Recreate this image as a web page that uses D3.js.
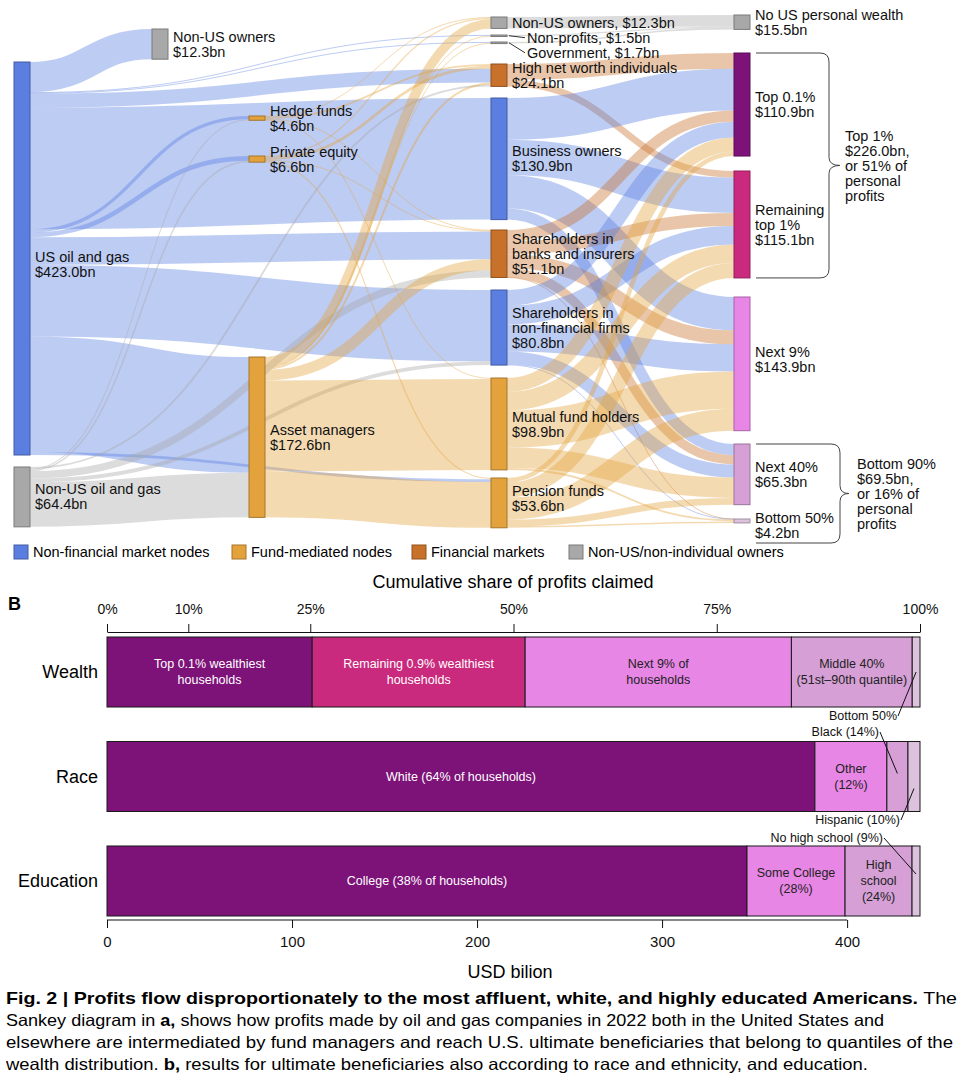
<!DOCTYPE html>
<html>
<head>
<meta charset="utf-8">
<script src="https://cdn.jsdelivr.net/npm/d3@7"></script>
<style>
  body { margin: 0; background: #fff; }
  svg { font-family: "Liberation Sans", Arial, Helvetica, sans-serif; }
</style>
</head>
<body>
<svg id="chart" width="960" height="1091"></svg>
<script>
// DATA ------------------------------------
// sankey nodes
const nodeIds = ["us", "nonusOil", "nonus1", "hedge", "pe", "am",
  "nonus2", "nonprofit", "gov", "hnwi", "business", "banks", "nonfin", "mutual", "pension",
  "noUS", "top01", "rem1", "next9", "next40", "bottom50"];
const nodeGroups = ["blue", "grey", "grey", "orange", "orange", "orange",
  "grey", "grey", "grey", "brown", "blue", "brown", "blue", "orange", "orange",
  "grey", "top01", "rem1", "next9", "next40", "bottom50"];
const nodeLabels = [
  ["US oil and gas", "$423.0bn"], ["Non-US oil and gas", "$64.4bn"], ["Non-US owners", "$12.3bn"],
  ["Hedge funds", "$4.6bn"], ["Private equity", "$6.6bn"], ["Asset managers", "$172.6bn"],
  ["Non-US owners, $12.3bn"], ["Non-profits, $1.5bn"], ["Government, $1.7bn"],
  ["High net worth individuals", "$24.1bn"], ["Business owners", "$130.9bn"],
  ["Shareholders in", "banks and insurers", "$51.1bn"], ["Shareholders in", "non-financial firms", "$80.8bn"],
  ["Mutual fund holders", "$98.9bn"], ["Pension funds", "$53.6bn"],
  ["No US personal wealth", "$15.5bn"], ["Top 0.1%", "$110.9bn"], ["Remaining", "top 1%", "$115.1bn"],
  ["Next 9%", "$143.9bn"], ["Next 40%", "$65.3bn"], ["Bottom 50%", "$4.2bn"]];

// flows in USD bn: [source, target, value]
const flowsOil = [
  ["us", "nonus1", 32.5], ["us", "nonprofit", 0.8], ["us", "gov", 0.9], ["us", "hnwi", 15.0],
  ["us", "hedge", 3.5], ["us", "pe", 5.0], ["us", "business", 130.9], ["us", "banks", 30.0],
  ["us", "nonfin", 76.8], ["us", "am", 124.7], ["us", "pension", 2.9],
  ["nonusOil", "hedge", 1.1], ["nonusOil", "pe", 1.6], ["nonusOil", "banks", 7.8],
  ["nonusOil", "nonfin", 4.0], ["nonusOil", "hnwi", 2.0], ["nonusOil", "am", 47.9]];
const flowsFunds = [
  ["hedge", "nonus2", 1.0], ["hedge", "hnwi", 2.0], ["hedge", "banks", 0.6], ["hedge", "mutual", 1.0],
  ["pe", "nonus2", 1.3], ["pe", "hnwi", 3.0], ["pe", "banks", 1.0], ["pe", "pension", 1.3],
  ["am", "nonus2", 10.0], ["am", "nonprofit", 0.7], ["am", "gov", 0.8], ["am", "hnwi", 2.1],
  ["am", "banks", 11.7], ["am", "mutual", 97.9], ["am", "pension", 49.4]];
const flowsOwners = [
  ["nonus2", "noUS", 12.3], ["nonprofit", "noUS", 1.5], ["gov", "noUS", 1.7],
  ["hnwi", "top01", 17.0], ["hnwi", "rem1", 7.1],
  ["business", "top01", 45.0], ["business", "rem1", 38.0], ["business", "next9", 35.9], ["business", "next40", 12.0],
  ["banks", "top01", 12.0], ["banks", "rem1", 14.0], ["banks", "next9", 15.0], ["banks", "next40", 10.0], ["banks", "bottom50", 0.1],
  ["nonfin", "top01", 17.0], ["nonfin", "rem1", 20.0], ["nonfin", "next9", 29.3], ["nonfin", "next40", 14.0], ["nonfin", "bottom50", 0.5],
  ["mutual", "top01", 14.9], ["mutual", "rem1", 20.0], ["mutual", "next9", 40.0], ["mutual", "next40", 22.0], ["mutual", "bottom50", 2.0],
  ["pension", "top01", 5.0], ["pension", "rem1", 16.0], ["pension", "next9", 23.7], ["pension", "next40", 7.3], ["pension", "bottom50", 1.6]];

const legendLabels = ["Non-financial market nodes", "Fund-mediated nodes", "Financial markets", "Non-US/non-individual owners"];
const legendGroups = ["blue", "orange", "brown", "grey"];

// panel b (USD bn)
const rowNames = ["Wealth", "Race", "Education"];
const wealthValues = [110.9, 115.1, 143.9, 65.3, 4.2];
const wealthLabels = [["Top 0.1% wealthiest", "households"], ["Remaining 0.9% wealthiest", "households"],
  ["Next 9% of", "households"], ["Middle 40%", "(51st\u201390th quantile)"], []];
const raceValues = [382.6, 38.9, 11.4, 6.5];
const raceLabels = [["White (64% of households)"], ["Other", "(12%)"], [], []];
const eduValues = [345.9, 53.0, 36.2, 4.3];
const eduLabels = [["College (38% of households)"], ["Some College", "(28%)"], ["High", "school", "(24%)"], []];
const shareTicks = [0, 10, 25, 50, 75, 100];
const usdTicks = [0, 100, 200, 300, 400];

// STYLE / LAYOUT -------------------------
const colors = {
  blue: "#5b7fe0", orange: "#e3a23c", brown: "#c8712b", grey: "#a8a8a8",
  top01: "#7d1278", rem1: "#c92a7d", next9: "#e886e6", next40: "#d6a0d6", bottom50: "#dcc2dc"
};
// node left x and top y (px)
const layout = {
  us: [14, 62], nonusOil: [14, 467],
  nonus1: [152, 29], hedge: [249, 116], pe: [249, 156], am: [249, 357],
  nonus2: [491, 17], nonprofit: [491, 35], gov: [491, 42], hnwi: [491, 64], business: [491, 98],
  banks: [491, 230], nonfin: [491, 290], mutual: [491, 378], pension: [491, 478],
  noUS: [734, 15], top01: [734, 53], rem1: [734, 171], next9: [734, 297], next40: [734, 444], bottom50: [734, 519]
};
// outgoing band order where it differs from target position
const sourceOrder = {
  us: ["nonus1", "nonprofit", "gov", "hnwi", "business", "hedge", "pe", "banks", "nonfin", "am", "pension"]
};
const nodeW = 16;

const svg = d3.select("#chart");

// SANKEY ----------------------------------
const hScale = d3.scaleLinear().domain([0, 423]).range([0, 393]);

const nodes = nodeIds.map((id, i) => ({
  id, group: nodeGroups[i], label: nodeLabels[i],
  x0: layout[id][0], y0: layout[id][1], sourceLinks: [], targetLinks: []
}));
const byId = new Map(nodes.map(n => [n.id, n]));
const links = [...flowsOil, ...flowsFunds, ...flowsOwners].map(([s, t, v]) => ({
  source: byId.get(s), target: byId.get(t), value: v
}));
links.forEach(l => { l.source.sourceLinks.push(l); l.target.targetLinks.push(l); });

nodes.forEach(n => {
  n.value = Math.max(d3.sum(n.sourceLinks, l => l.value), d3.sum(n.targetLinks, l => l.value));
  n.x1 = n.x0 + nodeW;
  n.y1 = n.y0 + hScale(n.value);
});
const mid = n => (n.y0 + n.y1) / 2;
nodes.forEach(n => {
  const ord = sourceOrder[n.id];
  if (ord) n.sourceLinks.sort((a, b) => ord.indexOf(a.target.id) - ord.indexOf(b.target.id));
  else n.sourceLinks.sort((a, b) => mid(a.target) - mid(b.target));
  n.targetLinks.sort((a, b) => mid(a.source) - mid(b.source));
  let y = n.y0;
  n.sourceLinks.forEach(l => { l.width = hScale(l.value); l.y0 = y + l.width / 2; y += l.width; });
  y = n.y0;
  n.targetLinks.forEach(l => { const w = hScale(l.value); l.y1 = y + w / 2; y += w; });
});

const linkPath = d3.linkHorizontal()
  .source(l => [l.source.x1, l.y0])
  .target(l => [l.target.x0, l.y1]);

svg.append("g")
  .attr("fill", "none")
  .selectAll("path")
  .data(links)
  .join("path")
  .attr("d", linkPath)
  .attr("stroke", l => colors[l.source.group])
  .attr("stroke-opacity", 0.4)
  .attr("stroke-width", l => Math.max(1, l.width));

svg.append("g")
  .selectAll("rect")
  .data(nodes)
  .join("rect")
  .attr("x", n => n.x0)
  .attr("y", n => n.y0)
  .attr("width", nodeW)
  .attr("height", n => Math.max(1.5, n.y1 - n.y0))
  .attr("fill", n => colors[n.group])
  .attr("stroke", n => d3.color(colors[n.group]).darker(0.9))
  .attr("stroke-width", 1);

// node labels
const lineH = 15;
const labelOffset = { nonprofit: [15, 2], gov: [15, 10], us: [0, 6], pension: [0, -4], next9: [0, -4], bottom50: [0, 4] };
const labelG = svg.append("g").attr("font-size", 14.5).attr("fill", "#111");
nodes.forEach(n => {
  const off = labelOffset[n.id] || [0, 0];
  const cx = n.x1 + 5 + off[0];
  const cy = mid(n) + off[1];
  const t = labelG.append("text").attr("x", cx).attr("y", cy - (n.label.length - 1) * lineH / 2);
  n.label.forEach((s, i) => t.append("tspan").attr("x", cx).attr("dy", i === 0 ? "0.35em" : lineH).text(s));
  if (off[0] > 0) {
    labelG.append("line")
      .attr("x1", n.x1 + 2).attr("y1", mid(n))
      .attr("x2", cx - 2).attr("y2", cy)
      .attr("stroke", "#333").attr("stroke-width", 1);
  }
});

// braces
function brace(top, bottom, xr, xt) {
  const m = (top + bottom) / 2;
  return `M756,${top} H${xr - 9} Q${xr},${top} ${xr},${top + 9} V${m - 8} Q${xr},${m} ${xt},${m}` +
    ` Q${xr},${m} ${xr},${m + 8} V${bottom - 9} Q${xr},${bottom} ${xr - 9},${bottom} H756`;
}
const top1 = byId.get("top01"), rem1 = byId.get("rem1"), next40 = byId.get("next40");
svg.append("path").attr("d", brace(top1.y0, rem1.y1, 829, 840))
  .attr("fill", "none").attr("stroke", "#444").attr("stroke-width", 1);
svg.append("path").attr("d", brace(next40.y0, 543, 840, 849))
  .attr("fill", "none").attr("stroke", "#444").attr("stroke-width", 1);

const braceTexts = [
  { x: 845, y: (top1.y0 + rem1.y1) / 2, lines: ["Top 1%", "$226.0bn,", "or 51% of", "personal", "profits"] },
  { x: 857, y: (next40.y0 + 543) / 2, lines: ["Bottom 90%", "$69.5bn,", "or 16% of", "personal", "profits"] }
];
braceTexts.forEach(b => {
  const t = labelG.append("text").attr("x", b.x).attr("y", b.y - (b.lines.length - 1) * lineH / 2);
  b.lines.forEach((s, i) => t.append("tspan").attr("x", b.x).attr("dy", i === 0 ? "0.35em" : lineH).text(s));
});

// legend
const legendX = [14, 232, 412, 569];
const legend = svg.append("g").attr("font-size", 14.5);
legendLabels.forEach((s, i) => {
  legend.append("rect").attr("x", legendX[i]).attr("y", 545).attr("width", 14).attr("height", 14)
    .attr("fill", colors[legendGroups[i]]).attr("stroke", d3.color(colors[legendGroups[i]]).darker(0.9));
  legend.append("text").attr("x", legendX[i] + 19).attr("y", 552).attr("dy", "0.35em").text(s);
});

// PANEL B ---------------------------------
const total = d3.sum(wealthValues);
const xUsd = d3.scaleLinear().domain([0, total]).range([107, 920]);
const xPct = d3.scaleLinear().domain([0, 100]).range([107, 920]);
const yRow = d3.scaleBand().domain(rowNames).range([637, 916]).paddingInner(0.33).paddingOuter(0);

const rows = [
  { name: "Wealth", values: wealthValues, labels: wealthLabels, colors: ["top01", "rem1", "next9", "next40", "bottom50"] },
  { name: "Race", values: raceValues, labels: raceLabels, colors: ["top01", "next9", "next40", "bottom50"] },
  { name: "Education", values: eduValues, labels: eduLabels, colors: ["top01", "next9", "next40", "bottom50"] }
];

const darkText = new Set(["top01", "rem1"]);
const barG = svg.append("g");
rows.forEach(r => {
  const ends = d3.cumsum(r.values);
  const y0 = yRow(r.name), bh = yRow.bandwidth();
  r.values.forEach((v, i) => {
    const a = ends[i] - v, b = ends[i];
    barG.append("rect")
      .attr("x", xUsd(a)).attr("y", y0)
      .attr("width", xUsd(b) - xUsd(a)).attr("height", bh)
      .attr("fill", colors[r.colors[i]]).attr("stroke", "#1a1a1a").attr("stroke-width", 1);
    const lines = r.labels[i];
    if (lines.length) {
      const cx = (xUsd(a) + xUsd(b)) / 2, cy = y0 + bh / 2;
      const t = barG.append("text").attr("text-anchor", "middle").attr("font-size", 12.5)
        .attr("fill", darkText.has(r.colors[i]) ? "#fff" : "#222")
        .attr("y", cy - (lines.length - 1) * 16 / 2);
      lines.forEach((s, j) => t.append("tspan").attr("x", cx).attr("dy", j === 0 ? "0.35em" : 16).text(s));
    }
  });
  svg.append("text").attr("x", 98).attr("y", y0 + bh / 2).attr("dy", "0.35em")
    .attr("text-anchor", "end").attr("font-size", 18).text(r.name);
});

// leader-line annotations for thin segments: [row, segment index, label, text x, text y, offset in bar]
const annotations = [
  ["Wealth", 4, "Bottom 50%", 897, 716, 0],
  ["Race", 2, "Black (14%)", 879, 732, -3],
  ["Race", 3, "Hispanic (10%)", 900, 820, 12],
  ["Education", 3, "No high school (9%)", 883, 838, -7]
];
annotations.forEach(([rowName, idx, label, tx, ty, dyIn]) => {
  const r = rows.find(d => d.name === rowName);
  const ends = d3.cumsum(r.values);
  const cx = (xUsd(ends[idx] - r.values[idx]) + xUsd(ends[idx])) / 2;
  const cy = yRow(rowName) + yRow.bandwidth() / 2 + dyIn;
  barG.append("line").attr("x1", tx + 1).attr("y1", ty).attr("x2", cx).attr("y2", cy)
    .attr("stroke", "#111").attr("stroke-width", 1);
  barG.append("text").attr("x", tx).attr("y", ty).attr("dy", "0.35em").attr("text-anchor", "end")
    .attr("font-size", 12.5).attr("fill", "#111").text(label);
});

// axes
const topAxis = svg.append("g").attr("transform", "translate(0,632)")
  .call(d3.axisTop(xPct).tickValues(shareTicks).tickFormat(d => d + "%").tickSize(8).tickSizeOuter(0).tickPadding(10));
topAxis.selectAll("text").attr("font-size", 14).attr("font-family", null).attr("fill", "#111");
topAxis.select(".domain").attr("stroke", "#111");
topAxis.selectAll(".tick line").attr("stroke", "#111");

const bottomAxis = svg.append("g").attr("transform", "translate(0,920)")
  .call(d3.axisBottom(xUsd).tickValues(usdTicks).tickSize(8).tickPadding(8));
bottomAxis.select(".domain").remove();
bottomAxis.append("line").attr("x1", xUsd(0)).attr("x2", xUsd(400)).attr("stroke", "#111");
bottomAxis.selectAll("text").attr("font-size", 15).attr("font-family", null).attr("fill", "#111");
bottomAxis.selectAll(".tick line").attr("stroke", "#111");

svg.append("text").attr("x", 513).attr("y", 588).attr("text-anchor", "middle").attr("font-size", 18)
  .text("Cumulative share of profits claimed");
svg.append("text").attr("x", 8).attr("y", 610).attr("font-size", 18).attr("font-weight", "bold").text("B");
svg.append("text").attr("x", 510).attr("y", 978).attr("text-anchor", "middle").attr("font-size", 18).text("USD bilion");

// CAPTION ---------------------------------
const captionLines = [
  { bold: "Fig. 2 | Profits flow disproportionately to the most affluent, white, and highly educated Americans.", rest: " The", end: 957 },
  { parts: [["Sankey diagram in ", 0], ["a,", 1], [" shows how profits made by oil and gas companies in 2022 both in the United States and", 0]], end: 884 },
  { parts: [["elsewhere are intermediated by fund managers and reach U.S. ultimate beneficiaries that belong to quantiles of the", 0]], end: 953 },
  { parts: [["wealth distribution. ", 0], ["b,", 1], [" results for ultimate beneficiaries also according to race and ethnicity, and education.", 0]], end: 868 }
];
captionLines.forEach((c, i) => {
  const t = svg.append("text").attr("x", 6).attr("y", 1004 + i * 22).attr("font-size", 16.5)
    .attr("textLength", c.end - 6).attr("lengthAdjust", "spacingAndGlyphs").attr("fill", "#000");
  const parts = c.parts || [[c.bold, 1], [c.rest, 0]];
  parts.forEach(([s, b]) => t.append("tspan").attr("font-weight", b ? "bold" : null).text(s));
});
</script>
</body>
</html>
